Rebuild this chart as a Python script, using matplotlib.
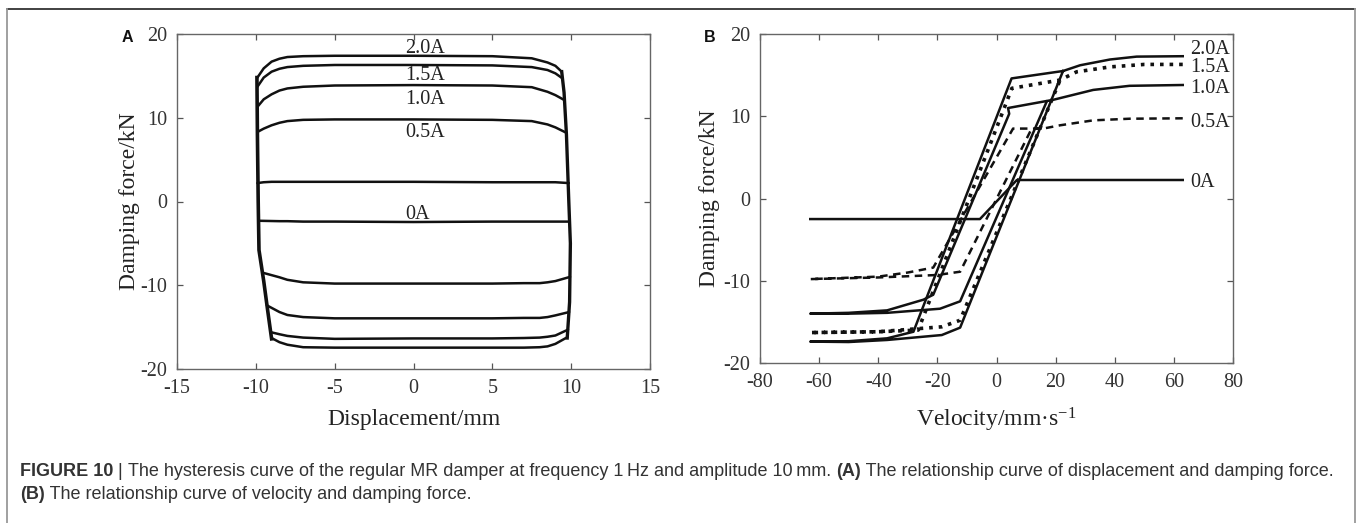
import matplotlib
matplotlib.use('Agg')
import matplotlib.pyplot as plt
from matplotlib.lines import Line2D

plt.rcParams['font.family'] = ['Liberation Serif', 'DejaVu Serif']
plt.rcParams['mathtext.fontset'] = 'custom'
plt.rcParams['mathtext.rm'] = 'Liberation Serif'
plt.rcParams['mathtext.default'] = 'regular'
plt.rcParams['axes.unicode_minus'] = False

currents = ['2.0A', '1.5A', '1.0A', '0.5A', '0A']

# ---- panel A: displacement (mm) vs damping force (kN) ----
# upper branch (moving right)
up_x = [-9.9, -9.5, -9.0, -8.5, -8.0, -7.0, -5.0, 0.0, 5.0, 7.5, 8.5, 9.0]
up_f_20 = [14.8, 15.9, 16.7, 17.05, 17.25, 17.35, 17.4, 17.4, 17.35, 17.1, 16.6, 16.2]
up_f_15 = [13.7, 14.8, 15.5, 15.85, 16.05, 16.2, 16.3, 16.3, 16.25, 16.05, 15.7, 15.3]
up_f_10 = [11.3, 12.2, 12.8, 13.25, 13.5, 13.7, 13.85, 13.9, 13.85, 13.65, 13.1, 12.7]
up_f_05 = [8.3, 8.7, 9.1, 9.4, 9.6, 9.75, 9.8, 9.8, 9.75, 9.6, 9.2, 8.85]
up_f_00 = [2.2, 2.3, 2.35, 2.35, 2.35, 2.35, 2.35, 2.35, 2.3, 2.3, 2.3, 2.3]
up_end_x = [9.4, 9.45, 9.58, 9.7, 9.85]
up_end_f = [15.5, 14.7, 12.1, 8.2, 2.2]

# lower branch (moving left)
low_start_x = [9.76, 9.8, 9.87, 9.93, 9.9]
low_start_f = [-16.2, -15.3, -13.2, -9.0, -2.4]
low_x = [9.0, 8.5, 8.0, 7.0, 5.0, 0.0, -5.0, -7.0, -8.0, -8.5]
low_f_20 = [-17.0, -17.3, -17.4, -17.45, -17.45, -17.45, -17.45, -17.4, -17.1, -16.8]
low_f_15 = [-16.0, -16.15, -16.25, -16.3, -16.35, -16.35, -16.4, -16.25, -16.05, -15.85]
low_f_10 = [-13.6, -13.8, -13.9, -13.9, -13.95, -13.95, -13.95, -13.8, -13.55, -13.2]
low_f_05 = [-9.5, -9.65, -9.75, -9.75, -9.8, -9.8, -9.8, -9.65, -9.35, -9.05]
low_f_00 = [-2.4, -2.4, -2.4, -2.4, -2.4, -2.45, -2.4, -2.4, -2.35, -2.35]
low_end_x = [-9.0, -9.06, -9.3, -9.57, -9.83]
low_end_f = [-16.3, -15.6, -12.4, -8.5, -2.3]

# velocity reversal edges of the loops
left_rev_x = [-9.0, -9.25, -9.5, -9.8, -9.85, -9.9, -9.93]
left_rev_f = [-16.4, -13.0, -9.5, -5.8, 0.0, 8.0, 14.8]
right_rev_x = [9.4, 9.55, 9.7, 9.85, 9.95, 9.9, 9.75]
right_rev_f = [15.5, 13.0, 8.0, 0.0, -5.0, -12.0, -16.3]

# ---- panel B: velocity (mm/s) vs damping force (kN) ----
vel_20 = [63, 47.4, 38.4, 28.3, 22.5, 5.1, -28.1, -37, -50, -63, -50, -37, -18.5, -12.3, 22.5]
force_20 = [17.3, 17.25, 16.9, 16.2, 15.5, 14.6, -16.2, -17.0, -17.35, -17.4, -17.45, -17.2, -16.6, -15.7, 15.5]
vel_15 = [63, 50, 38.4, 27.1, 21.5, 5.2, -26.5, -40, -63, -40, -18.5, -12.3, 21.5]
force_15 = [16.3, 16.3, 16.0, 15.4, 14.4, 13.4, -16.0, -16.2, -16.3, -16.2, -15.6, -14.8, 14.4]
vel_10 = [63, 45, 32.7, 19.2, 3.9, 4.3, -21.4, -24.7, -37, -50, -63, -50, -37, -19.1, -12.3, 17.0]
force_10 = [13.8, 13.7, 13.2, 12.0, 11.0, 10.3, -11.7, -12.3, -13.6, -13.9, -14.0, -14.0, -13.9, -13.4, -12.5, 11.8]
vel_05 = [63, 45, 32.7, 21.5, 15.8, 5.6, -21.4, -30, -40, -63, -40, -20, -12.3, 11.9, 15.8]
force_05 = [9.75, 9.7, 9.5, 8.9, 8.5, 8.5, -8.4, -9.0, -9.5, -9.8, -9.6, -9.3, -8.9, 8.5, 8.5]
vel_00 = [-63, -5.6, 6.9, 63]
force_00 = [-2.5, -2.5, 2.25, 2.25]

fig = plt.figure(figsize=(13.6, 5.23), dpi=100)
axA = fig.add_axes([177 / 1360, 1 - 369 / 523, 473 / 1360, 335 / 523])
axB = fig.add_axes([760 / 1360, 1 - 363 / 523, 473 / 1360, 329 / 523])

lc = '#111111'
up_list = [up_f_20, up_f_15, up_f_10, up_f_05, up_f_00]
low_list = [low_f_20, low_f_15, low_f_10, low_f_05, low_f_00]
for i in range(len(currents)):
    xs = up_x + [up_end_x[i]]
    ys = up_list[i] + [up_end_f[i]]
    axA.plot(xs, ys, color=lc, lw=1.8, solid_capstyle='round')
    xs = [low_start_x[i]] + low_x + [low_end_x[i]]
    ys = [low_start_f[i]] + low_list[i] + [low_end_f[i]]
    axA.plot(xs, ys, color=lc, lw=1.8, solid_capstyle='round')
axA.plot(left_rev_x, left_rev_f, color=lc, lw=2.6)
axA.plot(right_rev_x, right_rev_f, color=lc, lw=2.4)

labA_y = [18.3, 15.0, 12.2, 8.2, -1.6]
for lab, yy in zip(currents, labA_y):
    axA.text(-0.5, yy, lab, fontsize=14.5, va='center', ha='left', color='#222')

styles = ['-', ':', '-', (0, (3.0, 2.2)), '-']
widths = [1.8, 2.6, 1.8, 1.8, 1.8]
vels = [vel_20, vel_15, vel_10, vel_05, vel_00]
forces = [force_20, force_15, force_10, force_05, force_00]
for v, f, ls, w in zip(vels, forces, styles, widths):
    axB.plot(v, f, color=lc, ls=ls, lw=w)

labB_y = [18.1, 15.9, 13.4, 9.3, 2.0]
for lab, yy in zip(currents, labB_y):
    axB.text(65.6, yy, lab, fontsize=14.5, va='center', ha='left', color='#222', clip_on=False)

for ax in (axA, axB):
    ax.set_ylim(-20, 20)
    ax.set_yticks([-20, -10, 0, 10, 20])
    ax.tick_params(direction='in', length=4, width=0.9, colors='#555',
                   labelcolor='#333', labelsize=14.5, top=True, right=True, pad=7)
    for s in ax.spines.values():
        s.set_color('#666')
        s.set_linewidth(1.0)
    ax.set_ylabel('Damping force/kN', fontsize=17, color='#222')

axA.set_xlim(-15, 15)
axA.set_xticks([-15, -10, -5, 0, 5, 10, 15])
axA.set_xlabel('Displacement/mm', fontsize=17, color='#222')
axA.yaxis.set_label_coords(-0.078, 0.5)
axA.xaxis.set_label_coords(0.5, -0.12)

axB.set_xlim(-80, 80)
axB.set_xticks([-80, -60, -40, -20, 0, 20, 40, 60, 80])
axB.set_xlabel('Velocity/mm·s$^{-1}$', fontsize=17, color='#222')
axB.yaxis.set_label_coords(-0.085, 0.5)
axB.xaxis.set_label_coords(0.5, -0.13)

# panel letters
fig.text(127 / 1360, 1 - 37 / 523, 'A', family='Liberation Sans', weight='bold',
         fontsize=11.5, ha='center', va='center', color='#111')
fig.text(710 / 1360, 1 - 37 / 523, 'B', family='Liberation Sans', weight='bold',
         fontsize=11.5, ha='center', va='center', color='#111')

# frame around the figure
fig.add_artist(Line2D([7 / 1360, 1355 / 1360], [1 - 9 / 523, 1 - 9 / 523],
                      transform=fig.transFigure, color='#333', lw=1.3))
fig.add_artist(Line2D([7 / 1360, 7 / 1360], [0, 1 - 9 / 523],
                      transform=fig.transFigure, color='#999', lw=1.3))
fig.add_artist(Line2D([1355 / 1360, 1355 / 1360], [0, 1 - 9 / 523],
                      transform=fig.transFigure, color='#999', lw=1.3))

# caption, written piece by piece (bold and regular parts)
renderer = fig.canvas.get_renderer()


def caption_line(pieces, x0, y0, size):
    x = x0
    for txt, bold in pieces:
        t = fig.text(x, y0, txt, family='Liberation Sans', fontsize=size,
                     weight='bold' if bold else 'normal', color='#333',
                     ha='left', va='baseline')
        bb = t.get_window_extent(renderer)
        x += bb.width / fig.bbox.width


cap_size = 13
caption_line([('FIGURE 10', True), (' | ', False),
              ('The hysteresis curve of the regular MR damper at frequency 1\u2009Hz and amplitude 10\u2009mm. ', False),
              ('(A)', True), (' The relationship curve of displacement and damping force.', False)],
             20 / 1360, 1 - 476 / 523, cap_size)
caption_line([('(B)', True), (' The relationship curve of velocity and damping force.', False)],
             20 / 1360, 1 - 499 / 523, cap_size)

fig.savefig('out.png', dpi=100)
